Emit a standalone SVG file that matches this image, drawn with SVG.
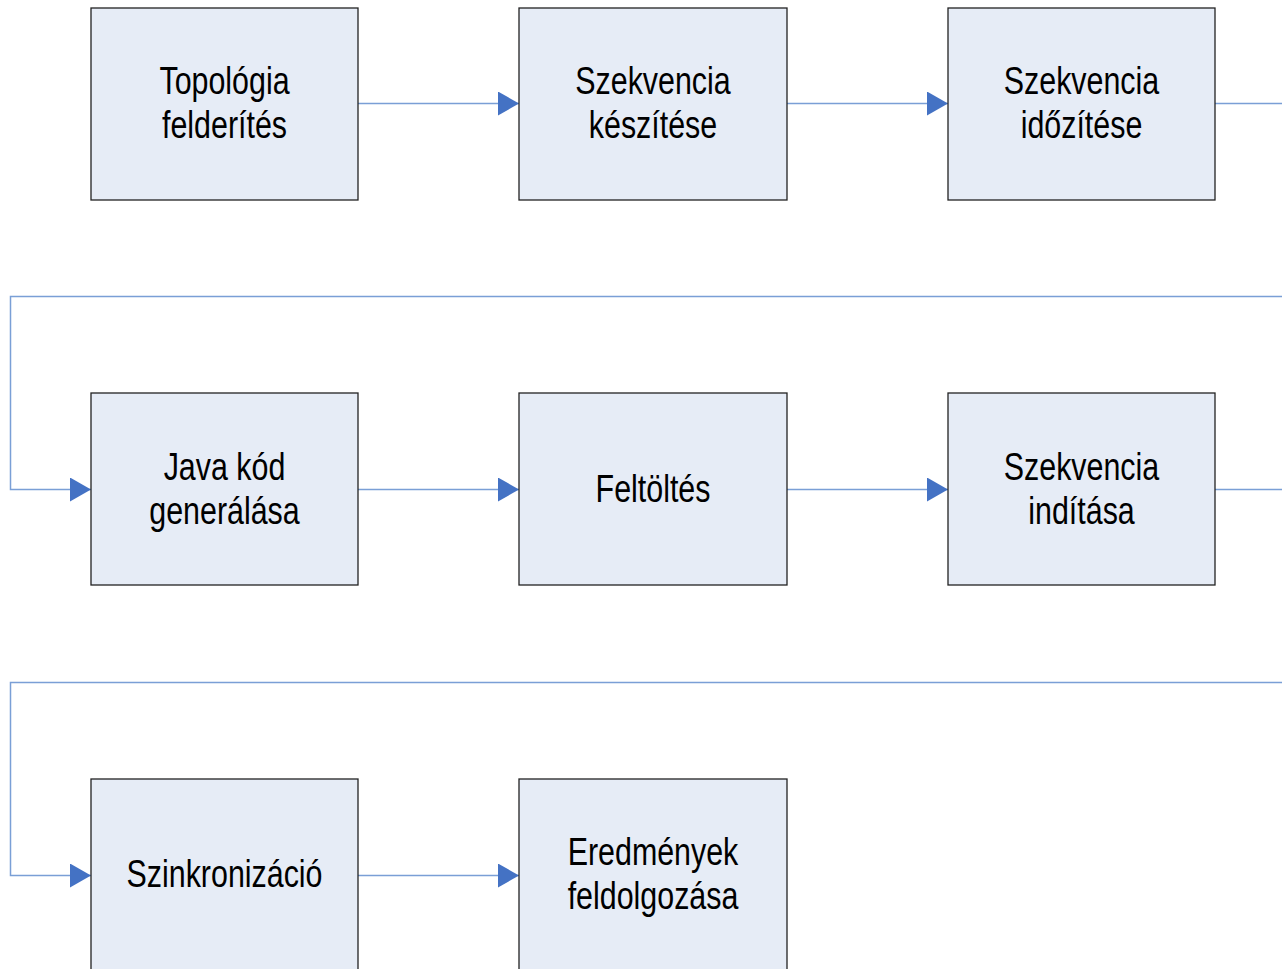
<svg xmlns="http://www.w3.org/2000/svg" width="1282" height="969" viewBox="0 0 1282 969">
  <defs>
    <marker id="arrow" markerWidth="21" markerHeight="24" refX="21" refY="12" orient="auto" markerUnits="userSpaceOnUse">
      <path d="M0,0 L21,12 L0,24 Z" fill="#4472C4"/>
    </marker>
  </defs>
  <style>
    .box { fill: #E6ECF6; stroke: #222222; stroke-width: 1.3; }
    .lbl { font-family: "Liberation Sans", Arial, sans-serif; font-size: 38px; fill: #000000; text-anchor: middle; }
    .conn { fill: none; stroke: #7A9FD6; stroke-width: 1.5; }
  </style>
  <rect width="1282" height="969" fill="#FFFFFF"/>

  <!-- connectors -->
  <g id="connectors">
    <path class="conn" d="M358,103.5 H519" marker-end="url(#arrow)"/>
    <path class="conn" d="M787,103.5 H948" marker-end="url(#arrow)"/>
    <path class="conn" d="M1215,103.5 H1290"/>
    <path class="conn" d="M1290,296.5 H10.5 V489.5 H91" marker-end="url(#arrow)"/>
    <path class="conn" d="M358,489.5 H519" marker-end="url(#arrow)"/>
    <path class="conn" d="M787,489.5 H948" marker-end="url(#arrow)"/>
    <path class="conn" d="M1215,489.5 H1290"/>
    <path class="conn" d="M1290,682.5 H10.5 V875.5 H91" marker-end="url(#arrow)"/>
    <path class="conn" d="M358,875.5 H519" marker-end="url(#arrow)"/>
  </g>

  <!-- process steps -->
  <g id="topologia">
    <rect class="box" x="91" y="8" width="267" height="192"/>
    <text class="lbl" transform="translate(224.5,0) scale(0.8,1)"><tspan x="0" y="94">Topológia</tspan><tspan x="0" y="138">felderítés</tspan></text>
  </g>
  <g id="szekvencia-keszitese">
    <rect class="box" x="519" y="8" width="268" height="192"/>
    <text class="lbl" transform="translate(653,0) scale(0.8,1)"><tspan x="0" y="94">Szekvencia</tspan><tspan x="0" y="138">készítése</tspan></text>
  </g>
  <g id="szekvencia-idozitese">
    <rect class="box" x="948" y="8" width="267" height="192"/>
    <text class="lbl" transform="translate(1081.5,0) scale(0.8,1)"><tspan x="0" y="94">Szekvencia</tspan><tspan x="0" y="138">időzítése</tspan></text>
  </g>
  <g id="java-kod">
    <rect class="box" x="91" y="393" width="267" height="192"/>
    <text class="lbl" transform="translate(224.5,0) scale(0.8,1)"><tspan x="0" y="480">Java kód</tspan><tspan x="0" y="524">generálása</tspan></text>
  </g>
  <g id="feltoltes">
    <rect class="box" x="519" y="393" width="268" height="192"/>
    <text class="lbl" transform="translate(653,0) scale(0.8,1)"><tspan x="0" y="502">Feltöltés</tspan></text>
  </g>
  <g id="szekvencia-inditasa">
    <rect class="box" x="948" y="393" width="267" height="192"/>
    <text class="lbl" transform="translate(1081.5,0) scale(0.8,1)"><tspan x="0" y="480">Szekvencia</tspan><tspan x="0" y="524">indítása</tspan></text>
  </g>
  <g id="szinkronizacio">
    <rect class="box" x="91" y="779" width="267" height="200"/>
    <text class="lbl" transform="translate(224.5,0) scale(0.8,1)"><tspan x="0" y="887">Szinkronizáció</tspan></text>
  </g>
  <g id="eredmenyek">
    <rect class="box" x="519" y="779" width="268" height="200"/>
    <text class="lbl" transform="translate(653,0) scale(0.8,1)"><tspan x="0" y="865">Eredmények</tspan><tspan x="0" y="909">feldolgozása</tspan></text>
  </g>
</svg>
